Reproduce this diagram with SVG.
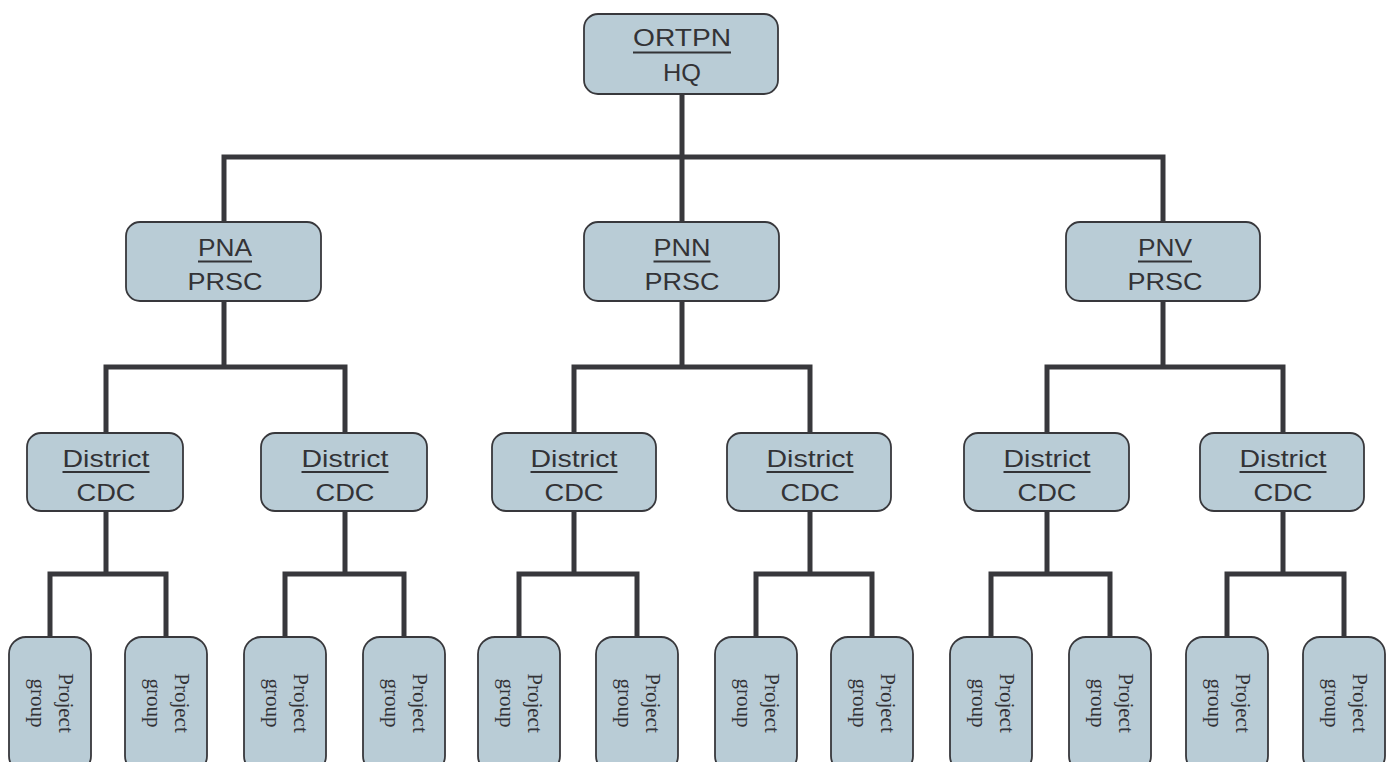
<svg xmlns="http://www.w3.org/2000/svg" width="1388" height="762" viewBox="0 0 1388 762">
<style>
.box{fill:#b9ccd6;stroke:#38383c;stroke-width:1.8}
.t{font-family:"Liberation Sans",Arial,sans-serif;font-size:24px;fill:#333336;text-anchor:middle}
.ul{stroke:#333336;stroke-width:1.8}
.pg{font-family:"Liberation Serif","Times New Roman",serif;font-size:21px;fill:#333336;text-anchor:middle}
.conn{fill:none;stroke:#38383c;stroke-width:5;stroke-linejoin:miter;stroke-linecap:butt}
</style>
<rect width="1388" height="762" fill="#ffffff"/>
<g id="connectors" class="conn">
<path d="M682 94V157M224 222V157H1163V222M682 157V222"/>
<path d="M224 301V367M106 433V367H345V433"/>
<path d="M682 301V367M574 433V367H810V433"/>
<path d="M1163 301V367M1047 433V367H1283V433"/>
<path d="M106 511V574M50 637V574H166V637"/>
<path d="M345 511V574M285 637V574H404V637"/>
<path d="M574 511V574M519 637V574H637V637"/>
<path d="M810 511V574M756 637V574H872V637"/>
<path d="M1047 511V574M991 637V574H1110V637"/>
<path d="M1283 511V574M1227 637V574H1344V637"/>
</g>
<g id="hq">
<rect class="box" x="584" y="14" width="194" height="80" rx="14"/>
<text class="t" x="682" y="45.5" textLength="98" lengthAdjust="spacingAndGlyphs">ORTPN</text>
<line class="ul" x1="633" y1="52.5" x2="731" y2="52.5"/>
<text class="t" x="682" y="81" textLength="38" lengthAdjust="spacingAndGlyphs">HQ</text>
</g>
<g id="pna">
<rect class="box" x="126" y="222" width="195" height="79" rx="14"/>
<text class="t" x="225" y="256" textLength="54" lengthAdjust="spacingAndGlyphs">PNA</text>
<line class="ul" x1="198" y1="261.5" x2="252" y2="261.5"/>
<text class="t" x="225" y="289.5" textLength="75" lengthAdjust="spacingAndGlyphs">PRSC</text>
</g>
<g id="pnn">
<rect class="box" x="584" y="222" width="195" height="79" rx="14"/>
<text class="t" x="682" y="256" textLength="57" lengthAdjust="spacingAndGlyphs">PNN</text>
<line class="ul" x1="653.5" y1="261.5" x2="710.5" y2="261.5"/>
<text class="t" x="682" y="289.5" textLength="75" lengthAdjust="spacingAndGlyphs">PRSC</text>
</g>
<g id="pnv">
<rect class="box" x="1066" y="222" width="194" height="79" rx="14"/>
<text class="t" x="1165" y="256" textLength="54" lengthAdjust="spacingAndGlyphs">PNV</text>
<line class="ul" x1="1138" y1="261.5" x2="1192" y2="261.5"/>
<text class="t" x="1165" y="289.5" textLength="75" lengthAdjust="spacingAndGlyphs">PRSC</text>
</g>
<g id="district1">
<rect class="box" x="27" y="433" width="156" height="78" rx="14"/>
<text class="t" x="106" y="467" textLength="87" lengthAdjust="spacingAndGlyphs">District</text>
<line class="ul" x1="62.5" y1="472" x2="149.5" y2="472"/>
<text class="t" x="106" y="500.5" textLength="59" lengthAdjust="spacingAndGlyphs">CDC</text>
</g>
<g id="district2">
<rect class="box" x="261" y="433" width="166" height="78" rx="14"/>
<text class="t" x="345" y="467" textLength="87" lengthAdjust="spacingAndGlyphs">District</text>
<line class="ul" x1="301.5" y1="472" x2="388.5" y2="472"/>
<text class="t" x="345" y="500.5" textLength="59" lengthAdjust="spacingAndGlyphs">CDC</text>
</g>
<g id="district3">
<rect class="box" x="492" y="433" width="164" height="78" rx="14"/>
<text class="t" x="574" y="467" textLength="87" lengthAdjust="spacingAndGlyphs">District</text>
<line class="ul" x1="530.5" y1="472" x2="617.5" y2="472"/>
<text class="t" x="574" y="500.5" textLength="59" lengthAdjust="spacingAndGlyphs">CDC</text>
</g>
<g id="district4">
<rect class="box" x="727" y="433" width="164" height="78" rx="14"/>
<text class="t" x="810" y="467" textLength="87" lengthAdjust="spacingAndGlyphs">District</text>
<line class="ul" x1="766.5" y1="472" x2="853.5" y2="472"/>
<text class="t" x="810" y="500.5" textLength="59" lengthAdjust="spacingAndGlyphs">CDC</text>
</g>
<g id="district5">
<rect class="box" x="964" y="433" width="165" height="78" rx="14"/>
<text class="t" x="1047" y="467" textLength="87" lengthAdjust="spacingAndGlyphs">District</text>
<line class="ul" x1="1003.5" y1="472" x2="1090.5" y2="472"/>
<text class="t" x="1047" y="500.5" textLength="59" lengthAdjust="spacingAndGlyphs">CDC</text>
</g>
<g id="district6">
<rect class="box" x="1200" y="433" width="164" height="78" rx="14"/>
<text class="t" x="1283" y="467" textLength="87" lengthAdjust="spacingAndGlyphs">District</text>
<line class="ul" x1="1239.5" y1="472" x2="1326.5" y2="472"/>
<text class="t" x="1283" y="500.5" textLength="59" lengthAdjust="spacingAndGlyphs">CDC</text>
</g>
<g id="pg1"><rect class="box" x="9" y="637" width="82" height="136" rx="17"/><g transform="translate(50 703) rotate(90)"><text class="pg" x="0" y="-8.5">Project</text><text class="pg" x="0" y="19">group</text></g></g>
<g id="pg2"><rect class="box" x="125" y="637" width="82" height="136" rx="17"/><g transform="translate(166 703) rotate(90)"><text class="pg" x="0" y="-8.5">Project</text><text class="pg" x="0" y="19">group</text></g></g>
<g id="pg3"><rect class="box" x="244" y="637" width="82" height="136" rx="17"/><g transform="translate(285 703) rotate(90)"><text class="pg" x="0" y="-8.5">Project</text><text class="pg" x="0" y="19">group</text></g></g>
<g id="pg4"><rect class="box" x="363" y="637" width="82" height="136" rx="17"/><g transform="translate(404 703) rotate(90)"><text class="pg" x="0" y="-8.5">Project</text><text class="pg" x="0" y="19">group</text></g></g>
<g id="pg5"><rect class="box" x="478" y="637" width="82" height="136" rx="17"/><g transform="translate(519 703) rotate(90)"><text class="pg" x="0" y="-8.5">Project</text><text class="pg" x="0" y="19">group</text></g></g>
<g id="pg6"><rect class="box" x="596" y="637" width="82" height="136" rx="17"/><g transform="translate(637 703) rotate(90)"><text class="pg" x="0" y="-8.5">Project</text><text class="pg" x="0" y="19">group</text></g></g>
<g id="pg7"><rect class="box" x="715" y="637" width="82" height="136" rx="17"/><g transform="translate(756 703) rotate(90)"><text class="pg" x="0" y="-8.5">Project</text><text class="pg" x="0" y="19">group</text></g></g>
<g id="pg8"><rect class="box" x="831" y="637" width="82" height="136" rx="17"/><g transform="translate(872 703) rotate(90)"><text class="pg" x="0" y="-8.5">Project</text><text class="pg" x="0" y="19">group</text></g></g>
<g id="pg9"><rect class="box" x="950" y="637" width="82" height="136" rx="17"/><g transform="translate(991 703) rotate(90)"><text class="pg" x="0" y="-8.5">Project</text><text class="pg" x="0" y="19">group</text></g></g>
<g id="pg10"><rect class="box" x="1069" y="637" width="82" height="136" rx="17"/><g transform="translate(1110 703) rotate(90)"><text class="pg" x="0" y="-8.5">Project</text><text class="pg" x="0" y="19">group</text></g></g>
<g id="pg11"><rect class="box" x="1186" y="637" width="82" height="136" rx="17"/><g transform="translate(1227 703) rotate(90)"><text class="pg" x="0" y="-8.5">Project</text><text class="pg" x="0" y="19">group</text></g></g>
<g id="pg12"><rect class="box" x="1303" y="637" width="82" height="136" rx="17"/><g transform="translate(1344 703) rotate(90)"><text class="pg" x="0" y="-8.5">Project</text><text class="pg" x="0" y="19">group</text></g></g>
</svg>
